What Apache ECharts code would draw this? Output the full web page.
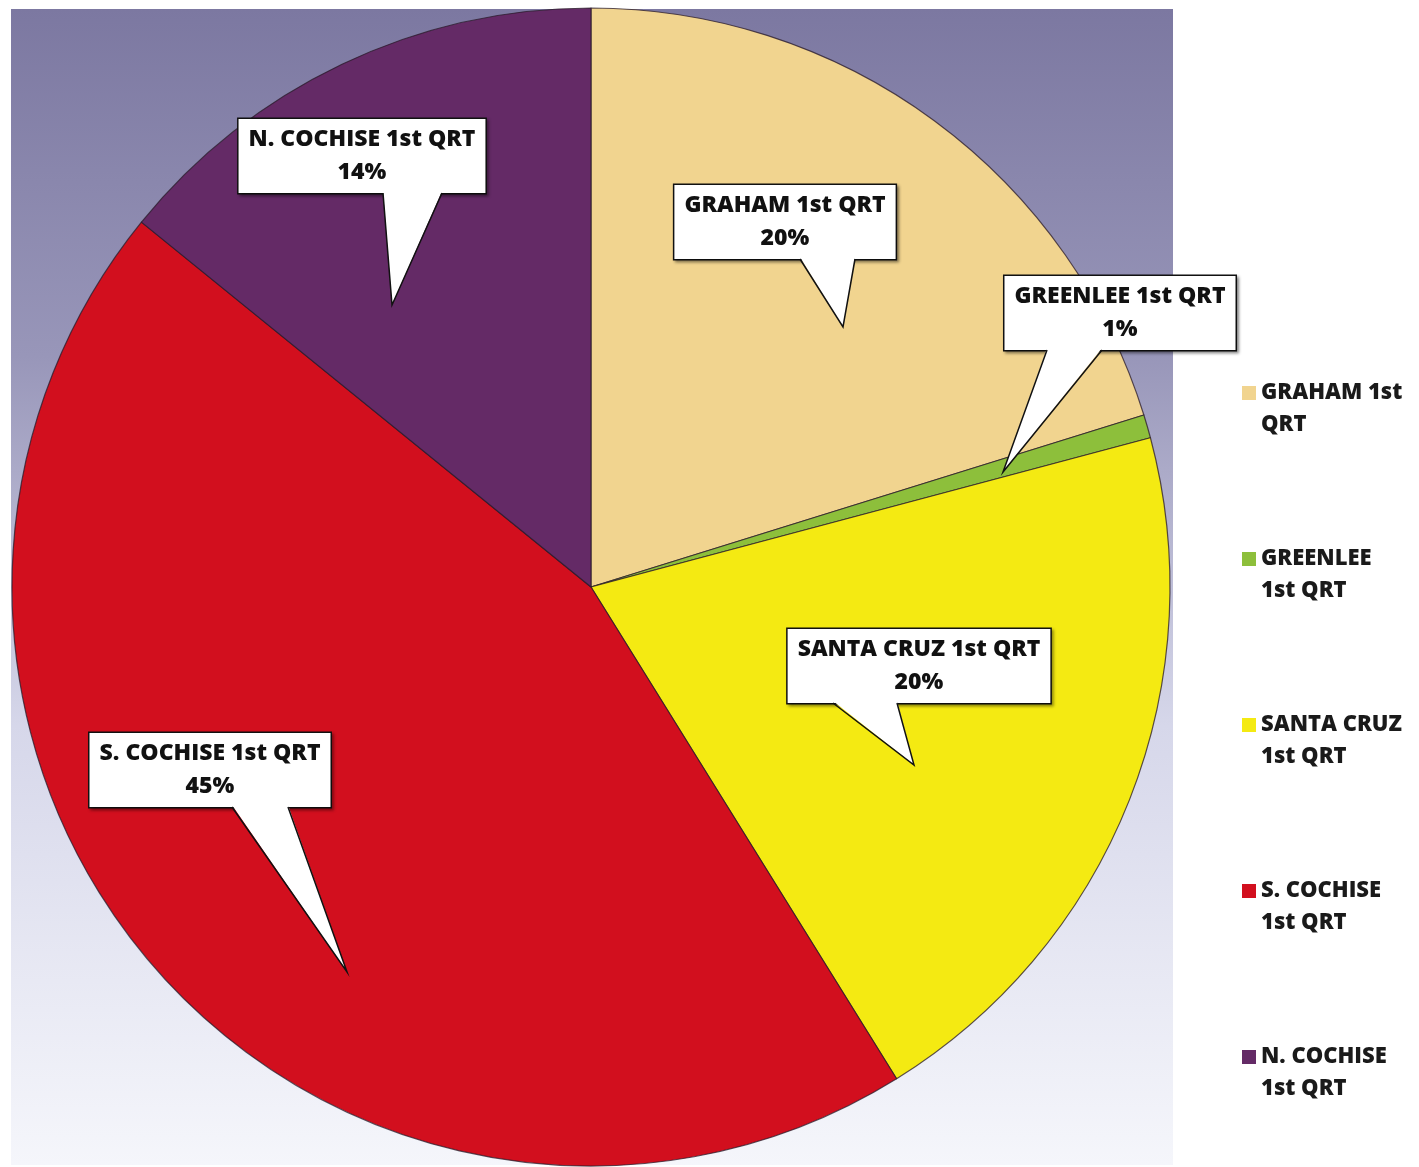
<!DOCTYPE html>
<html>
<head>
<meta charset="utf-8">
<title>1st QRT</title>
<script src="https://cdn.jsdelivr.net/npm/echarts@6/dist/echarts.min.js"></script>
<style>
  html, body { margin: 0; padding: 0; background: #ffffff; }
  #chart { width: 1419px; height: 1167px; }
</style>
</head>
<body>
<div id="chart"></div>
<script>
// data
const categories = ['GRAHAM 1st QRT', 'GREENLEE 1st QRT', 'SANTA CRUZ 1st QRT', 'S. COCHISE 1st QRT', 'N. COCHISE 1st QRT']
const values = [20.2, 0.65, 20.3, 44.7, 14.15]
const legendLabels = ['GRAHAM 1st\nQRT', 'GREENLEE\n1st QRT', 'SANTA CRUZ\n1st QRT', 'S. COCHISE\n1st QRT', 'N. COCHISE\n1st QRT']

const colors = ['#f1d48f', '#8dbf3b', '#f4ea12', '#d20f1e', '#642a66']
const FONT = '"Open Sans", Lato, sans-serif'

// callout boxes (center) and tails
const labelBox = [[785, 222], [1120, 313], [919, 666], [210, 770], [362, 156]]
const tails = [
  [[800, 259], [843, 327], [855, 259]],
  [[1047, 350], [1003, 472], [1102, 350]],
  [[833, 703], [914, 765], [897, 703]],
  [[232, 807], [347, 972], [288, 807]],
  [[383, 193], [392, 305], [442, 193]]
]

const chart = echarts.init(document.getElementById('chart'))

const tailGraphics = []
tails.forEach(t => {
  tailGraphics.push({
    type: 'polygon', z: 10,
    shape: { points: [[t[0][0], t[0][1] - 2], t[1], [t[2][0], t[2][1] - 2]] },
    style: { fill: '#ffffff' }
  })
  tailGraphics.push({
    type: 'polyline', z: 11,
    shape: { points: t },
    style: { stroke: '#111111', lineWidth: 1.5, fill: null }
  })
})

chart.setOption({
  color: colors,
  graphic: [{
    type: 'rect', z: -10, silent: true,
    shape: { x: 11, y: 9, width: 1162, height: 1156 },
    style: {
      fill: new echarts.graphic.LinearGradient(0, 0, 0, 1, [
        { offset: 0, color: '#7c78a1' },
        { offset: 0.3, color: '#9896b9' },
        { offset: 0.62, color: '#d6d7ea' },
        { offset: 1, color: '#f5f6fb' }
      ])
    }
  }].concat(tailGraphics),
  legend: {
    orient: 'vertical',
    left: 1237,
    top: 372,
    itemWidth: 14,
    itemHeight: 46,
    itemGap: 102,
    // square sitting on the first text line
    icon: 'path://M0,0L14,0L14,14L0,14Z M0,46L14,46Z',
    itemStyle: { borderWidth: 0 },
    formatter: name => legendLabels[categories.indexOf(name)],
    textStyle: {
      fontFamily: FONT,
      fontWeight: 800,
      fontSize: 22,
      lineHeight: 32,
      color: '#1a1a1a'
    }
  },
  series: [{
    name: '1st QRT',
    type: 'pie',
    center: [591, 587],
    radius: 579,
    startAngle: 90,
    clockwise: true,
    avoidLabelOverlap: false,
    percentPrecision: 0,
    itemStyle: {
      borderColor: 'rgba(40, 25, 40, 0.75)',
      borderWidth: 1.2
    },
    label: {
      show: true,
      position: 'outside',
      formatter: '{b}\n{d}%',
      fontFamily: FONT,
      fontWeight: 800,
      fontSize: 23,
      lineHeight: 33,
      color: '#111111',
      align: 'center',
      backgroundColor: '#ffffff',
      borderColor: '#111111',
      borderWidth: 1.5,
      padding: [4, 10, 4, 10],
      shadowColor: 'rgba(0, 0, 0, 0.35)',
      shadowBlur: 3,
      shadowOffsetX: 2,
      shadowOffsetY: 2
    },
    labelLine: { show: false },
    labelLayout: function (params) {
      const b = labelBox[params.dataIndex]
      return { x: b[0], y: b[1], align: 'center', verticalAlign: 'middle' }
    },
    emphasis: { disabled: true },
    data: categories.map((c, i) => ({ name: c, value: values[i] }))
  }]
})
</script>
</body>
</html>
